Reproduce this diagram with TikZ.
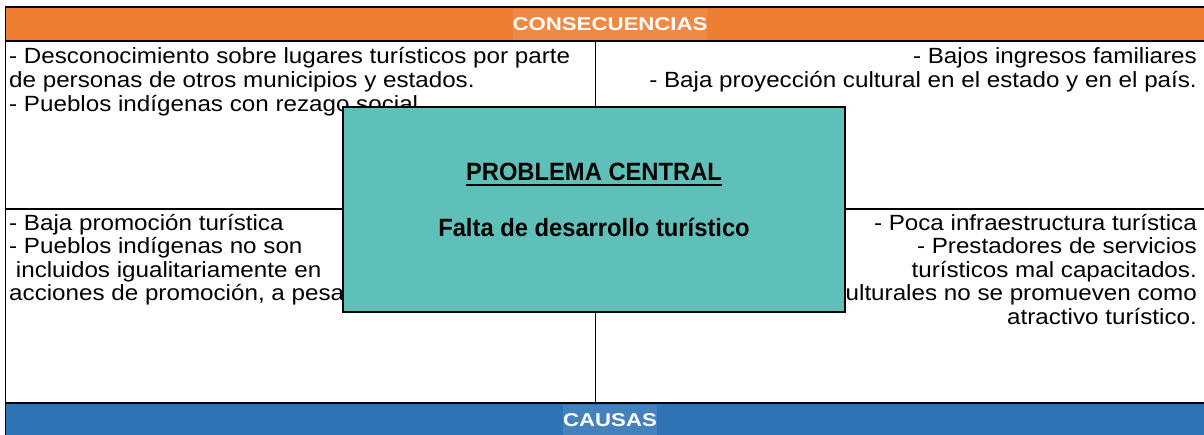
\documentclass[tikz,border=0pt]{standalone}
\usepackage{fontspec}
\setmainfont{Liberation Sans}[FakeStretch=1.1]
\newfontfamily\headfont{Liberation Sans}[FakeStretch=1.2]
\newfontfamily\boxfont{Liberation Sans}[FakeStretch=0.95]
\definecolor{conorange}{HTML}{ED7D31}
\definecolor{caublue}{HTML}{2E74B5}
\definecolor{probteal}{HTML}{5EC0B9}
\begin{document}
\begin{tikzpicture}[x=1pt, y=-1pt,
    celltext/.style={inner sep=0pt, font=\fontsize{22}{24}\selectfont},
    headtext/.style={text=white, inner xsep=8pt, inner sep=0pt, minimum height=31pt, font=\headfont\bfseries\fontsize{18.5}{20}\selectfont},
    boxtext/.style={inner sep=0pt, font=\boxfont\bfseries\fontsize{25}{28}\selectfont}]
    \useasboundingbox (0,0) rectangle (1204,434);
    \clip (0,0) rectangle (1204,434);
    % bands and rules
    \fill[conorange] (5,7) rectangle (1210,41);
    \fill[caublue] (5,403) rectangle (1210,440);
    \node[headtext, fill=conorange!90!white] (cons) at (610,24.5) {CONSECUENCIAS};
    \node[headtext, fill=caublue!90!white] (caus) at (610,420.5) {CAUSAS};
    \foreach \y/\w in {7/2.5, 41/2.2, 209/2.2, 403/2.2}
        \draw[line width=\w pt] (5,\y) -- (1210,\y);
    \draw[line width=1.4pt] (5.5,6) -- (5.5,440);
    \draw[line width=1pt] (595,41) -- (595,403);
    % consecuencias
    \foreach \t [count=\i from 0] in {{- Desconocimiento sobre lugares turísticos por parte}, {de personas de otros municipios y estados.}, {- Pueblos indígenas con rezago social.}}
        \node[celltext, anchor=base west] (conl\i) at (9,63+24*\i) {\t};
    \foreach \t [count=\i from 0] in {{- Bajos ingresos familiares}, {- Baja proyección cultural en el estado y en el país.}}
        \node[celltext, anchor=base east] (conr\i) at (1197,63+24*\i) {\t};
    % causas
    \foreach \t [count=\i from 0] in {{- Baja promoción turística}, {- Pueblos indígenas no son}, {\ incluidos igualitariamente en}, {acciones de promoción, a pesar de su potencial.}}
        \node[celltext, anchor=base west] (caul\i) at (9,230+23.5*\i) {\t};
    \foreach \t [count=\i from 0] in {{- Poca infraestructura turística}, {- Prestadores de servicios}, {turísticos mal capacitados.}, {- Las festividades culturales no se promueven como}, {atractivo turístico.}}
        \node[celltext, anchor=base east] (caur\i) at (1197,230+23.5*\i) {\t};
    % problema central
    \node[draw, line width=1.5pt, fill=probteal, minimum width=502pt, minimum height=205pt, inner sep=0pt] (prob) at (594,209.5) {};
    \node[boxtext, anchor=base] (ptitle) at (594,180.5) {PROBLEMA CENTRAL};
    \draw[line width=1.4pt] ([yshift=-4.5pt]ptitle.base west) -- ([yshift=-4.5pt]ptitle.base east);
    \node[boxtext, anchor=base] (pname) at (594,236.5) {Falta de desarrollo turístico};
\end{tikzpicture}
\end{document}
